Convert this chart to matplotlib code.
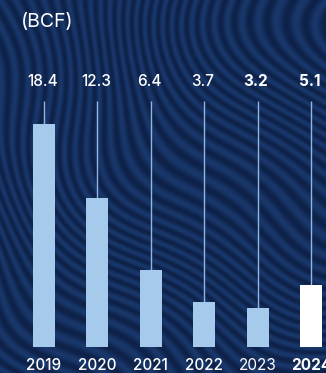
import numpy as np
import matplotlib
matplotlib.use("Agg")
import matplotlib.pyplot as plt
from matplotlib.colors import LinearSegmentedColormap

# Annual volumes (BCF)
years = ["2019", "2020", "2021", "2022", "2023", "2024"]
values = [18.4, 12.3, 6.4, 3.7, 3.2, 5.1]
value_labels = ["18.4", "12.3", "6.4", "3.7", "3.2", "5.1"]
value_weights = [500, 500, 500, 500, 700, 700]
year_weights = [500, 500, 500, 500, 400, 700]
bar_colors = ["#a6caec"] * 5 + ["#ffffff"]

W, H = 326, 373
DPI = 100
FONT = ["Inter", "Liberation Sans", "DejaVu Sans"]

fig = plt.figure(figsize=(W / DPI, H / DPI), dpi=DPI)

# Decorative navy background with flowing stripes
bg = fig.add_axes([0, 0, 1, 1], zorder=0)
yy, xx = np.mgrid[0:H, 0:W].astype(float)
phi = (np.hypot(xx - 360, yy - 20) * 0.95
       + 14 * np.sin(xx / 48.0 + yy / 70.0)
       + 9 * np.sin(yy / 33.0 - xx / 90.0))
stripes = 0.5 + 0.5 * np.sin(phi / 1.8)
cmap = LinearSegmentedColormap.from_list("navy", ["#0e2249", "#19376a"])
bg.imshow(stripes, cmap=cmap, extent=[0, W, H, 0], aspect="auto",
          interpolation="bilinear")
bg.set_xlim(0, W)
bg.set_ylim(H, 0)
bg.axis("off")

# Chart axes: category centers at 44 px and 311 px, baseline at 347 px
spacing = (311 - 44) / 5
left_px = 44 - 0.5 * spacing
width_px = 6 * spacing
base_px = 347
ppu = 12.1  # pixels per BCF
top_val = (base_px - 101) / ppu
ax = fig.add_axes([left_px / W, (H - base_px) / H, width_px / W,
                   (base_px - 101) / H], zorder=1)
ax.set_xlim(-0.5, 5.5)
ax.set_ylim(0, top_val)
ax.patch.set_alpha(0)
for s in ax.spines.values():
    s.set_visible(False)

x = np.arange(len(years))
ax.bar(x, values, width=0.41, color=bar_colors, zorder=2)
ax.vlines(x, values, top_val, color="#8fb6e2", lw=1.0, zorder=1)

label_y = (base_px - 81) / ppu
for xi, lab, w in zip(x, value_labels, value_weights):
    ax.text(xi - 0.03, label_y, lab, ha="center", va="center", color="white",
            fontsize=11, fontweight=w, family=FONT, clip_on=False)

ax.set_yticks([])
ax.set_xticks(x)
ax.set_xticklabels(years)
ax.tick_params(axis="x", length=0, pad=8)
for t, w in zip(ax.get_xticklabels(), year_weights):
    t.set_color("white")
    t.set_fontsize(11)
    t.set_fontweight(w)
    t.set_family(FONT)

fig.text(21 / W, 1 - 22 / H, "(BCF)", ha="left", va="center", color="white",
         fontsize=14, family=FONT)

fig.savefig("out.png", dpi=DPI)
